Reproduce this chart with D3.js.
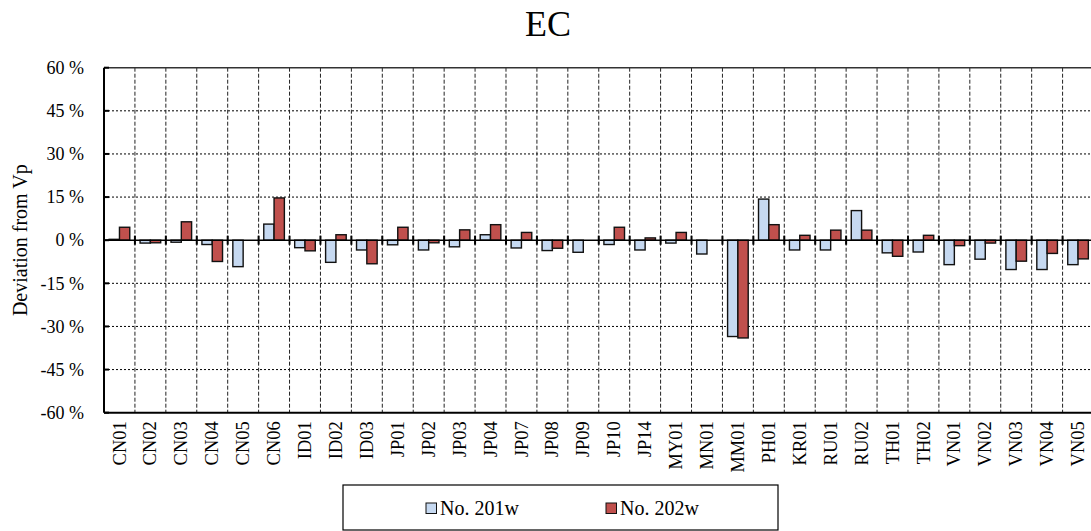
<!DOCTYPE html>
<html>
<head>
<meta charset="utf-8">
<script src="https://cdn.jsdelivr.net/npm/d3@7"></script>
<style>
  html, body { margin: 0; padding: 0; background: #fff; }
  svg { display: block; }
  svg text { font-family: "Liberation Serif", "Times New Roman", serif !important; }
</style>
</head>
<body>
<svg id="chart" width="1091" height="531"></svg>
<script>
const categories = ["CN01","CN02","CN03","CN04","CN05","CN06","ID01","ID02","ID03",
  "JP01","JP02","JP03","JP04","JP07","JP08","JP09","JP10","JP14",
  "MY01","MN01","MM01","PH01","KR01","RU01","RU02","TH01","TH02",
  "VN01","VN02","VN03","VN04","VN05"];
const seriesNames = ["No. 201w", "No. 202w"];
const series201w = [0.3,-1.0,-0.7,-1.5,-9.2,5.6,-2.6,-7.7,-3.4,
  -1.6,-3.4,-2.3,1.9,-2.7,-3.6,-4.2,-1.5,-3.4,
  -1.0,-4.8,-33.5,14.3,-3.4,-3.4,10.3,-4.4,-4.1,
  -8.5,-6.6,-10.2,-10.2,-8.5];
const series202w = [4.5,-0.9,6.4,-7.4,0,14.7,-3.7,1.9,-8.2,
  4.5,-0.9,3.6,5.4,2.7,-2.8,0,4.5,0.8,
  2.7,0,-34.0,5.4,1.7,3.5,3.5,-5.6,1.7,
  -1.9,-1.0,-7.3,-4.6,-6.5];
const yTicks = [-60,-45,-30,-15,0,15,30,45,60];
const colors = ["#C6D9F1", "#C0504D"];
const title = "EC";
const yLabel = "Deviation from Vp";

const FONT = '"Liberation Serif", "Times New Roman", serif';
const svg = d3.select("#chart");
const pL = 104, pR = 1093.5, pT = 67.7, pB = 412.7;

const x = d3.scaleBand().domain(categories).range([pL, pR]).padding(0);
const xs = d3.scaleBand().domain(seriesNames).range([0, x.bandwidth()]).paddingInner(0).paddingOuter(0.5);
const y = d3.scaleLinear().domain([-60, 60]).range([pB, pT]);

// horizontal grid (dotted)
svg.append("g").selectAll("line").data(yTicks.filter(t => t !== 0 && t !== 60 && t !== -60)).join("line")
  .attr("x1", pL).attr("x2", pR)
  .attr("y1", d => y(d)).attr("y2", d => y(d))
  .attr("stroke", "#000").attr("stroke-width", 1).attr("stroke-dasharray", "2,2");

// vertical grid (dashed) at category boundaries
const bounds = categories.slice(1).map(c => x(c));
svg.append("g").selectAll("line").data(bounds).join("line")
  .attr("x1", d => d).attr("x2", d => d)
  .attr("y1", pT).attr("y2", pB)
  .attr("stroke", "#222").attr("stroke-width", 1).attr("stroke-dasharray", "4,2");

// bars
const data = categories.map((c, i) => ({ c, vals: [series201w[i], series202w[i]] }));
const groups = svg.append("g").selectAll("g").data(data).join("g")
  .attr("transform", d => `translate(${x(d.c)},0)`);
groups.selectAll("rect").data(d => d.vals.map((v, k) => ({ v, k })).filter(e => e.v !== 0)).join("rect")
  .attr("x", e => xs(seriesNames[e.k]))
  .attr("width", xs.bandwidth())
  .attr("y", e => y(Math.max(0, e.v)))
  .attr("height", e => Math.abs(y(e.v) - y(0)))
  .attr("fill", e => colors[e.k])
  .attr("stroke", "#111").attr("stroke-width", 1.4);

// zero line with ticks
svg.append("line").attr("x1", pL).attr("x2", pR).attr("y1", y(0)).attr("y2", y(0))
  .attr("stroke", "#000").attr("stroke-width", 1.5);
svg.append("g").selectAll("line").data(bounds).join("line")
  .attr("x1", d => d).attr("x2", d => d)
  .attr("y1", y(0) - 4.5).attr("y2", y(0) + 4.5)
  .attr("stroke", "#000").attr("stroke-width", 2);

// frame
svg.append("line").attr("x1", pL).attr("x2", pR).attr("y1", pT).attr("y2", pT)
  .attr("stroke", "#333").attr("stroke-width", 1.6);
svg.append("line").attr("x1", pL).attr("x2", pR).attr("y1", pB).attr("y2", pB)
  .attr("stroke", "#000").attr("stroke-width", 2);
svg.append("line").attr("x1", pL).attr("x2", pL).attr("y1", pT).attr("y2", pB)
  .attr("stroke", "#000").attr("stroke-width", 2);

// y axis labels
const yAxis = d3.axisLeft(y).tickValues(yTicks).tickSize(0).tickPadding(20).tickFormat(d => d + " %");
const ya = svg.append("g").attr("transform", `translate(${pL},0)`).call(yAxis)
  .attr("font-family", FONT).attr("font-size", 18);
ya.select(".domain").remove();
ya.selectAll("text").attr("fill", "#000").style("font-family", FONT).style("font-size", "18px");
svg.append("g").selectAll("line").data(yTicks).join("line")
  .attr("x1", pL).attr("x2", pL + 5)
  .attr("y1", d => y(d)).attr("y2", d => y(d))
  .attr("stroke", "#000").attr("stroke-width", 2);

// x labels (rotated)
const xAxis = d3.axisBottom(x).tickSize(0).tickPadding(0);
const xa = svg.append("g").attr("transform", `translate(0,${pB})`).call(xAxis)
  .attr("font-family", FONT).attr("font-size", 18.5);
xa.select(".domain").remove();
xa.selectAll("text")
  .attr("fill", "#000")
  .style("font-family", FONT).style("font-size", "18.5px")
  .attr("transform", "rotate(-90)")
  .attr("text-anchor", "end")
  .attr("x", -8.5).attr("y", 0).attr("dy", "0.33em");

// title
svg.append("text").attr("x", 548).attr("y", 36).attr("text-anchor", "middle")
  .style("font-family", FONT).style("font-size", "36px").attr("fill", "#000").text(title);

// y label
svg.append("text").attr("transform", `translate(27,${(pT + pB) / 2}) rotate(-90)`)
  .attr("text-anchor", "middle").style("font-family", FONT).style("font-size", "20px")
  .attr("fill", "#000").text(yLabel);

// legend
const lg = svg.append("g");
lg.append("rect").attr("x", 343).attr("y", 485).attr("width", 435).attr("height", 45)
  .attr("fill", "#fff").attr("stroke", "#000").attr("stroke-width", 1.2);
const legX = [426, 606];
seriesNames.forEach((name, k) => {
  lg.append("rect").attr("x", legX[k]).attr("y", 503).attr("width", 10.5).attr("height", 10.5)
    .attr("fill", colors[k]).attr("stroke", "#111").attr("stroke-width", 1);
  lg.append("text").attr("x", legX[k] + 14).attr("y", 515).style("font-family", FONT)
    .style("font-size", "20px").attr("fill", "#000").text(name);
});
</script>
</body>
</html>
